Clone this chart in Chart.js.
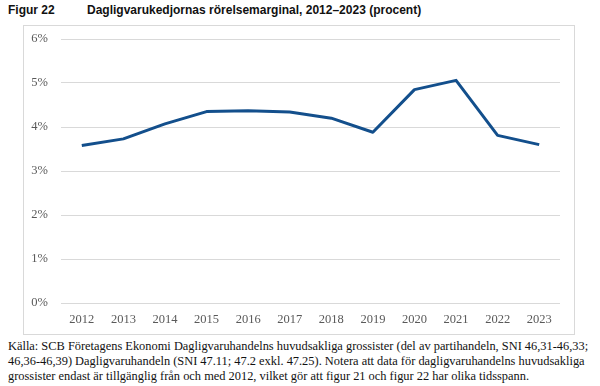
<!DOCTYPE html>
<html><head><meta charset="utf-8">
<script src="https://cdn.jsdelivr.net/npm/chart.js@4"></script>
<style>
html,body{margin:0;padding:0;background:#fff;width:600px;height:386px;overflow:hidden;}
#title{position:absolute;left:8px;top:3px;font:bold 12px "Liberation Sans",Arial,sans-serif;color:#111;white-space:nowrap;}
#title span{position:absolute;left:79px;}
#frame{position:absolute;left:23px;top:25px;width:550px;height:308px;border:1px solid #d9d9d9;}
#cap{position:absolute;left:8px;top:339px;width:592px;font:12.4px "Liberation Serif","Times New Roman",serif;line-height:15px;color:#111;white-space:nowrap;}
</style></head><body>
<div id="title">Figur 22<span>Dagligvarukedjornas rörelsemarginal, 2012–2023 (procent)</span></div>
<div id="frame"><canvas id="c" width="550" height="308"></canvas></div>
<div id="cap">Källa: SCB Företagens Ekonomi Dagligvaruhandelns huvudsakliga grossister (del av partihandeln, SNI 46,31-46,33;<br>46,36-46,39) Dagligvaruhandeln (SNI 47.11; 47.2 exkl. 47.25). Notera att data för dagligvaruhandelns huvudsakliga<br>grossister endast är tillgänglig från och med 2012, vilket gör att figur 21 och figur 22 har olika tidsspann.</div>
<script>
const years = ["2012","2013","2014","2015","2016","2017","2018","2019","2020","2021","2022","2023"];
const margin = [3.58, 3.73, 4.07, 4.35, 4.37, 4.34, 4.20, 3.88, 4.85, 5.06, 3.81, 3.60];
const yTicks = [0,1,2,3,4,5,6];

new Chart(document.getElementById('c'), {
  type: 'line',
  data: { labels: years, datasets: [{ data: margin, borderColor: '#134f8c', borderWidth: 3, pointRadius: 0, tension: 0, fill: false, borderJoinStyle: 'round', borderCapStyle: 'butt' }] },
  options: {
    responsive: false, animation: false,
    layout: { padding: { top: 13, right: 14, left: 0, bottom: 0 } },
    plugins: { legend: { display: false }, tooltip: { enabled: false } },
    scales: {
      x: {
        offset: true,
        grid: { display: false, drawTicks: false },
        border: { display: false },
        ticks: { color: '#595959', font: { family: '"Liberation Serif", serif', size: 12.5 }, padding: 9, maxRotation: 0, autoSkip: false },
        afterFit: s => { s.height = 31; s.paddingLeft = 0; s.paddingRight = 0; }
      },
      y: {
        min: 0, max: 6,
        afterBuildTicks: s => { s.ticks = yTicks.map(v => ({ value: v })); },
        grid: { color: '#d9d9d9', lineWidth: 1, drawTicks: false },
        border: { display: false },
        ticks: { color: '#595959', font: { family: '"Liberation Serif", serif', size: 12.5 }, padding: 13, callback: v => v + '%' },
        afterFit: s => { s.width = 37; s.paddingTop = 7; s.paddingBottom = 0; }
      }
    }
  }
});
</script>
</body></html>
